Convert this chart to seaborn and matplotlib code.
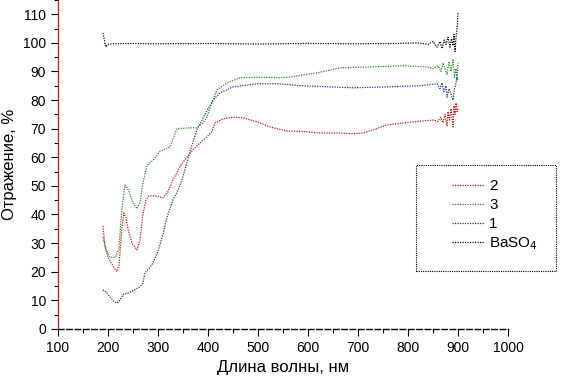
import numpy as np
import pandas as pd
import seaborn as sns
import matplotlib
matplotlib.use("Agg")
import matplotlib.pyplot as plt
from matplotlib.ticker import MultipleLocator
from matplotlib.patches import Rectangle

# -------------------------------
# Data
# -------------------------------
wl_2 = [190, 194, 200, 210, 218, 222, 228, 232, 236, 240, 248, 258, 264, 270, 276, 282,
        295, 310, 320, 330, 345, 358, 370, 384, 400, 408, 414, 430, 450, 470, 498, 524,
        558, 590, 624, 660, 690, 710, 724, 758, 790, 810, 850, 860, 865, 870, 874, 878,
        880, 883, 886, 888, 890, 892, 894, 896, 898, 900]
r_2 = [36, 29, 25, 22, 20, 22, 35, 40.5, 39, 35, 30, 27.6, 31, 40, 45, 46.5,
       46.5, 45.8, 48, 52, 57, 60, 62.6, 65, 67.5, 69, 72, 73.4, 74, 73.8, 72.4, 70.6,
       69.2, 69, 68.5, 68.5, 68.2, 68.5, 69.2, 71.3, 72, 72.4, 73, 72.5, 74, 72, 75, 71,
       76, 73, 77, 74, 70.6, 78, 75, 79, 76, 77]

wl_3 = [190, 196, 204, 215, 222, 228, 234, 240, 250, 258, 264, 270, 278, 290, 304, 324,
        338, 364, 377, 390, 398, 410, 418, 438, 464, 504, 538, 564, 590, 618, 644, 664,
        724, 790, 838, 850, 860, 866, 870, 874, 878, 882, 886, 890, 893, 896, 898, 900]
r_3 = [32, 28, 25, 25, 28, 42, 50.3, 49, 44, 42, 44, 51, 57, 59, 62, 63.6,
       70, 70.3, 70.3, 72, 74, 80, 83.6, 86, 87.8, 88, 87.8, 88, 88.8, 89.5, 90.5, 91.3,
       91.6, 92, 91.6, 91, 92, 90, 93, 91, 89, 93.5, 90, 94, 88, 91, 87, 93]

wl_1 = [190, 196, 205, 212, 218, 224, 230, 240, 252, 264, 270, 274, 282, 290, 300, 310,
        318, 330, 340, 348, 356, 364, 378, 394, 410, 424, 450, 498, 538, 590, 644, 690,
        758, 824, 858, 864, 868, 872, 876, 878, 882, 886, 890, 893, 896, 898, 900]
r_1 = [13.6, 13, 11, 9.5, 9, 10, 12, 12.5, 13.5, 14.7, 16, 19.6, 21, 23, 27, 33,
       39, 45, 48.5, 52, 57, 62, 69.6, 75, 80, 82.5, 84.6, 85.7, 85.7, 85, 84.6, 84.3,
       84.6, 85, 85.7, 84, 86, 83, 85, 81, 84, 82, 80, 84, 86, 88, 87]

wl_ba = [190, 193, 196, 200, 210, 250, 300, 400, 500, 600, 700, 780, 820, 840, 850, 858,
         864, 868, 872, 876, 880, 884, 887, 890, 892, 894, 896, 898, 899, 900]
r_ba = [103.5, 101, 98.6, 99.5, 99.7, 99.8, 99.7, 99.8, 99.6, 99.8, 99.7, 99.8, 100, 99.5, 100.5, 98.5,
        100.5, 98, 101, 99.5, 102, 98.5, 101.5, 99, 103, 97, 102, 105, 107, 110.5]

labels = ["2", "3", "1", "BaSO$_4$"]
colors = ["#c41a1a", "#2f8a2f", "#2b3b8c", "#111111"]

df = pd.concat([
    pd.DataFrame({"wl": wl_2, "R": r_2, "sample": labels[0]}),
    pd.DataFrame({"wl": wl_3, "R": r_3, "sample": labels[1]}),
    pd.DataFrame({"wl": wl_1, "R": r_1, "sample": labels[2]}),
    pd.DataFrame({"wl": wl_ba, "R": r_ba, "sample": labels[3]}),
], ignore_index=True)

# -------------------------------
# Plot
# -------------------------------
plt.rcParams["font.family"] = ["Liberation Sans", "DejaVu Sans"]

fig = plt.figure(figsize=(5.62, 3.81), dpi=100)
ax = fig.add_axes([0.103, 0.137, 0.801, 0.863])

sns.lineplot(data=df, x="wl", y="R", hue="sample", hue_order=labels,
             palette=colors, sort=False, estimator=None, linewidth=0.9,
             linestyle=(0, (1, 1)), ax=ax)

ax.set_xlim(100, 1000)
ax.set_ylim(0, 115)
ax.xaxis.set_major_locator(MultipleLocator(100))
ax.xaxis.set_minor_locator(MultipleLocator(50))
ax.yaxis.set_minor_locator(MultipleLocator(5))
ax.set_yticks(np.arange(0, 111, 10))

for s in ["top", "right"]:
    ax.spines[s].set_visible(False)
ax.spines["left"].set_color("#d02020")
ax.spines["left"].set_linestyle((0, (1, 1)))
ax.spines["left"].set_linewidth(1.0)
ax.spines["bottom"].set_color("black")
ax.spines["bottom"].set_linestyle((0, (4, 2)))
ax.spines["bottom"].set_linewidth(1.0)

ax.tick_params(axis="both", which="major", direction="out", length=5, width=0.8,
               labelsize=10, colors="black")
ax.tick_params(axis="both", which="minor", direction="out", length=3, width=0.8)

ax.set_xlabel("Длина волны, нм", fontsize=12)
ax.set_ylabel("Отражение, %", fontsize=12)

# legend entries without frame, box drawn separately (it is wider than the entries)
leg = ax.legend(loc="upper left", bbox_to_anchor=(0.804, 0.530),
                bbox_transform=fig.transFigure, borderaxespad=0, borderpad=0,
                fontsize=11, frameon=False, handlelength=2.1, handletextpad=0.35,
                labelspacing=0.32)
for h in leg.get_lines():
    h.set_linestyle((0, (1, 1)))
    h.set_linewidth(0.9)

box = Rectangle((0.740, 0.289), 0.249, 0.278, transform=fig.transFigure,
                fill=False, edgecolor="black", linewidth=0.8, linestyle=(0, (1, 1)))
fig.patches.append(box)

fig.savefig("out.png", dpi=100)
